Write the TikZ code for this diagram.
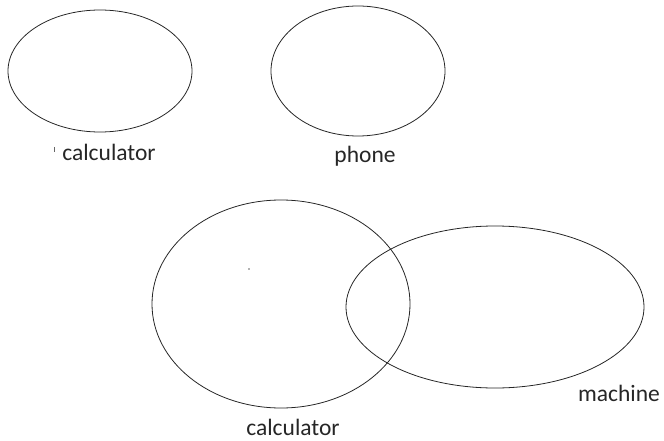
\documentclass[tikz,border=0pt]{standalone}
\usepackage{fontspec}
\setmainfont{Carlito}
\begin{document}
\begin{tikzpicture}[x=1pt,y=-1pt,
  ring/.style={draw=black!85,line width=0.8pt},
  lbl/.style={font=\fontsize{23.5}{26}\selectfont,text=black!85,inner sep=0pt}]
\useasboundingbox (0,0) rectangle (664,441);
\draw[ring] (100,71) ellipse [x radius=92, y radius=61];
\draw[ring] (358,71) ellipse [x radius=87, y radius=65];
\draw[ring] (281,304) ellipse [x radius=129, y radius=104];
\draw[ring] (495,307) ellipse [x radius=149, y radius=81];
\node[lbl] (c1) at (109,152) {calculator};
\node[lbl] (ph) at (365,156) {phone};
\node[lbl] (c2) at (293,427) {calculator};
\node[lbl] (ma) at (619,393) {machine};
\draw[black!60,line width=0.8pt] (54,147) -- (54,152);
\fill[black!60] (249,269) circle (0.8);
\end{tikzpicture}
\end{document}
